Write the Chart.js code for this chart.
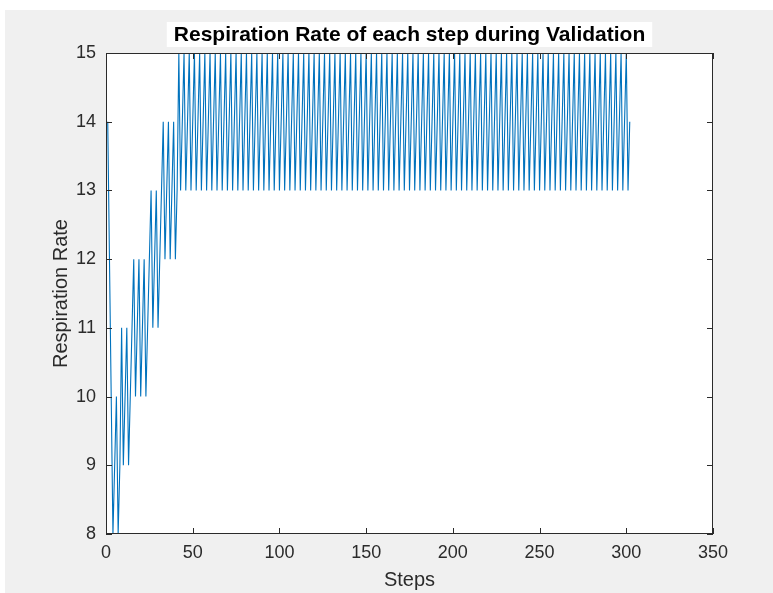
<!DOCTYPE html>
<html>
    <head>
        <title>Respiration Rate</title>
        <script src="https://cdn.jsdelivr.net/npm/chart.js@4.4.1/dist/chart.umd.min.js"></script>
        <style>
            html, body { margin: 0; padding: 0; background: #ffffff; }
            #wrap { position: relative; width: 773px; height: 593px; }
        </style>
    </head>
    <body>
        <div id="wrap">
            <canvas id="rateChart" width="773" height="593"></canvas>
        </div>
        <script>
            const chartTitle = "Respiration Rate of each step during Validation";
            const xTitle = "Steps";
            const yTitle = "Respiration Rate";
            const xRange = [0, 350];
            const yRange = [8, 15];
            const xTickStep = 50;
            const yTickStep = 1;
            const firstStep = 1;

            // ramp-up during the first ~40 steps
            const warmupRates = [
                14, 12, 10, 8, 9, 10, 8, 9,
                11, 9, 10, 11, 9, 10, 11, 12,
                10, 11, 12, 10, 11, 12, 10, 11,
                12, 13, 11, 12, 13, 11, 12, 13,
                14, 12, 13, 14, 12, 13, 14, 12,
                13
            ];

            // steady oscillation from step 42 to the end
            const steadyRates = [
                15, 13, 14, 15, 13, 14, 15, 13, 14, 15, 13, 14, 15, 13, 14, 15, 13, 14, 15, 13, 14, 15, 13, 14, 15, 13, 14, 15, 13, 14,
                15, 13, 14, 15, 13, 14, 15, 13, 14, 15, 13, 14, 15, 13, 14, 15, 13, 14, 15, 13, 14, 15, 13, 14, 15, 13, 14, 15, 13, 14,
                15, 13, 14, 15, 13, 14, 15, 13, 14, 15, 13, 14, 15, 13, 14, 15, 13, 14, 15, 13, 14, 15, 13, 14, 15, 13, 14, 15, 13, 14,
                15, 13, 14, 15, 13, 14, 15, 13, 14, 15, 13, 14, 15, 13, 14, 15, 13, 14, 15, 13, 14, 15, 13, 14, 15, 13, 14, 15, 13, 14,
                15, 13, 14, 15, 13, 14, 15, 13, 14, 15, 13, 14, 15, 13, 14, 15, 13, 14, 15, 13, 14, 15, 13, 14, 15, 13, 14, 15, 13, 14,
                15, 13, 14, 15, 13, 14, 15, 13, 14, 15, 13, 14, 15, 13, 14, 15, 13, 14, 15, 13, 14, 15, 13, 14, 15, 13, 14, 15, 13, 14,
                15, 13, 14, 15, 13, 14, 15, 13, 14, 15, 13, 14, 15, 13, 14, 15, 13, 14, 15, 13, 14, 15, 13, 14, 15, 13, 14, 15, 13, 14,
                15, 13, 14, 15, 13, 14, 15, 13, 14, 15, 13, 14, 15, 13, 14, 15, 13, 14, 15, 13, 14, 15, 13, 14, 15, 13, 14, 15, 13, 14,
                15, 13, 14, 15, 13, 14, 15, 13, 14, 15, 13, 14, 15, 13, 14, 15, 13, 14, 15, 13, 14
            ];

            const respRates = warmupRates.concat(steadyRates);
            const points = respRates.map((v, i) => ({ x: firstStep + i, y: v }));

            const axisColor = "#2b2b2b";
            const tickLen = 6;

            // figure background, white axes box, inward ticks on all four sides, title box
            const matlabFrame = {
                id: "matlabFrame",
                beforeDraw: (chart) => {
                    const ctx = chart.ctx;
                    const area = chart.chartArea;
                    ctx.save();
                    ctx.fillStyle = "#ffffff";
                    ctx.fillRect(0, 0, chart.width, chart.height);
                    ctx.fillStyle = "#f0f0f0";
                    ctx.fillRect(5, 10, chart.width - 5, chart.height - 10);
                    ctx.fillStyle = "#ffffff";
                    ctx.fillRect(area.left, area.top, area.right - area.left, area.bottom - area.top);
                    ctx.restore();
                },
                afterDraw: (chart) => {
                    const ctx = chart.ctx;
                    const area = chart.chartArea;
                    const xs = chart.scales.x;
                    const ys = chart.scales.y;
                    ctx.save();
                    ctx.strokeStyle = axisColor;
                    ctx.lineWidth = 1;
                    ctx.strokeRect(area.left + 0.5, area.top + 0.5, area.right - area.left - 1, area.bottom - area.top - 1);
                    ctx.beginPath();
                    xs.ticks.forEach(t => {
                        const px = Math.round(xs.getPixelForValue(t.value)) + 0.5;
                        ctx.moveTo(px, area.bottom);
                        ctx.lineTo(px, area.bottom - tickLen);
                        ctx.moveTo(px, area.top);
                        ctx.lineTo(px, area.top + tickLen);
                    });
                    ys.ticks.forEach(t => {
                        const py = Math.round(ys.getPixelForValue(t.value)) + 0.5;
                        ctx.moveTo(area.left, py);
                        ctx.lineTo(area.left + tickLen, py);
                        ctx.moveTo(area.right, py);
                        ctx.lineTo(area.right - tickLen, py);
                    });
                    ctx.stroke();

                    const cx = (area.left + area.right) / 2;
                    ctx.font = "bold 21px 'Liberation Sans', Arial, sans-serif";
                    const w = ctx.measureText(chartTitle).width;
                    ctx.fillStyle = "#ffffff";
                    ctx.fillRect(cx - w / 2 - 7, 22, w + 14, 25);
                    ctx.fillStyle = "#000000";
                    ctx.textAlign = "center";
                    ctx.textBaseline = "middle";
                    ctx.fillText(chartTitle, cx, 35);
                    ctx.restore();
                }
            };

            const labelFont = { family: "'Liberation Sans', Arial, sans-serif", size: 20, lineHeight: 1.2 };
            const tickFont = { family: "'Liberation Sans', Arial, sans-serif", size: 18, lineHeight: 1.2 };

            new Chart(document.getElementById("rateChart"), {
                type: "line",
                data: {
                    datasets: [{
                        data: points,
                        borderColor: "#0072BD",
                        borderWidth: 1.1,
                        pointRadius: 0,
                        tension: 0,
                        fill: false,
                    }]
                },
                options: {
                    responsive: false,
                    animation: false,
                    layout: { padding: { top: 53, right: 60, left: 0, bottom: 0 } },
                    plugins: {
                        legend: { display: false },
                        title: { display: false },
                        tooltip: { enabled: false },
                    },
                    scales: {
                        x: {
                            type: "linear",
                            min: xRange[0],
                            max: xRange[1],
                            grid: { display: false, drawTicks: false },
                            border: { display: false },
                            ticks: { stepSize: xTickStep, font: tickFont, color: axisColor, padding: 8, maxRotation: 0 },
                            title: { display: true, text: xTitle, font: labelFont, color: axisColor, padding: { top: 0, bottom: 1 } },
                            afterFit: (scale) => { scale.height = 59; },
                        },
                        y: {
                            type: "linear",
                            min: yRange[0],
                            max: yRange[1],
                            grid: { display: false, drawTicks: false },
                            border: { display: false },
                            ticks: { stepSize: yTickStep, font: tickFont, color: axisColor, padding: 10 },
                            title: { display: true, text: yTitle, font: labelFont, color: axisColor, padding: { top: 49, bottom: 0 } },
                            afterFit: (scale) => { scale.width = 106; },
                        },
                    },
                },
                plugins: [matlabFrame],
            });
        </script>
    </body>
</html>
